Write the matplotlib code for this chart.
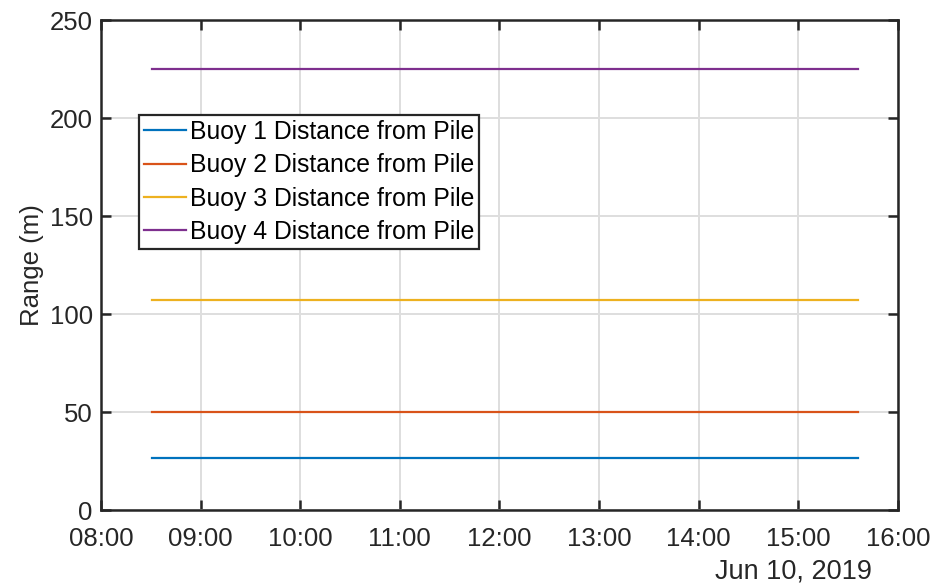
import numpy as np
import matplotlib
matplotlib.use('Agg')
import matplotlib.pyplot as plt
import matplotlib.dates as mdates
from datetime import datetime

# data
times = [datetime(2019, 6, 10, 8, 31), datetime(2019, 6, 10, 15, 36)]
buoy1 = [26.5, 26.5]
buoy2 = [50.0, 50.0]
buoy3 = [107.0, 107.0]
buoy4 = [225.0, 225.0]
labels = ['Buoy 1 Distance from Pile', 'Buoy 2 Distance from Pile',
          'Buoy 3 Distance from Pile', 'Buoy 4 Distance from Pile']
colors = ['#0072BD', '#D95319', '#EDB120', '#7E2F8E']

plt.rcParams['font.family'] = ['Liberation Sans', 'DejaVu Sans']
axcol = '#262626'

fig = plt.figure(figsize=(9.33, 5.84), dpi=100)
ax = fig.add_axes([101 / 933, 74 / 584, 797 / 933, 490 / 584])

for y, lab, c in zip([buoy1, buoy2, buoy3, buoy4], labels, colors):
    ax.plot(times, y, color=c, lw=1.6, label=lab)

ax.set_xlim(datetime(2019, 6, 10, 8, 0), datetime(2019, 6, 10, 16, 0))
ax.set_ylim(0, 250)
ax.set_yticks(np.arange(0, 251, 50))
ax.xaxis.set_major_locator(mdates.HourLocator())
ax.xaxis.set_major_formatter(mdates.DateFormatter('%H:%M'))

ax.grid(True, color='#dedede', lw=1.4)
ax.set_axisbelow(True)
for s in ax.spines.values():
    s.set_color(axcol)
    s.set_linewidth(1.8)
ax.tick_params(direction='in', length=7, width=1.8, colors=axcol,
               labelsize=18.5, top=True, right=True, pad=6)
ax.tick_params(axis='x', pad=12)
ax.set_ylabel('Range (m)', fontsize=18.5, color=axcol, labelpad=4)

leg = ax.legend(loc='upper left', bbox_to_anchor=((139 - 101) / 797, (510 - 115) / 490),
                fontsize=17.8, handlelength=1.7, handletextpad=0.15,
                labelspacing=0.38, borderpad=0.2, borderaxespad=0,
                fancybox=False, framealpha=1, edgecolor=axcol)
leg.get_frame().set_linewidth(1.6)

fig.text(872 / 933, 1 - 572 / 584, 'Jun 10, 2019', ha='right', va='center',
         fontsize=19.5, color=axcol)

fig.savefig('out.png', dpi=100)
